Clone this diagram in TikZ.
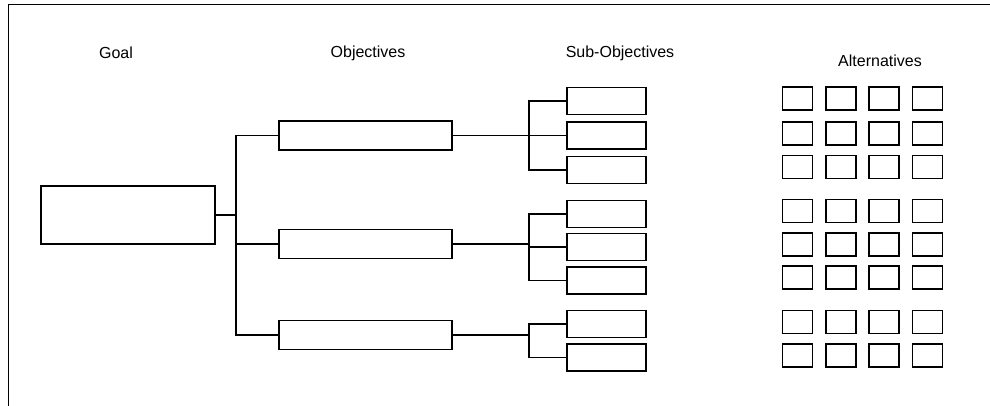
\documentclass[tikz,border=0pt]{standalone}
\usepackage{fontspec}
\setmainfont{Liberation Sans}
\begin{document}
\begin{tikzpicture}[x=1pt,y=-1pt,
  frameline/.style={line width=1pt},
  link/.style={line width=1.1pt},
  bx/.style={draw, line width=1.2pt, inner sep=0pt},
  goalbox/.style={bx, minimum width=174pt, minimum height=58pt},
  objbox/.style={bx, minimum width=173pt, minimum height=29pt},
  subbox/.style={bx, minimum width=79pt, minimum height=27pt},
  altbox/.style={bx, minimum width=30pt, minimum height=23pt},
  head/.style={font=\fontsize{16}{18}\selectfont, inner sep=0pt}]
\useasboundingbox (0,0) rectangle (990,406);

% outer frame (top and left edges)
\coordinate (tl) at (8,5);
\coordinate (tr) at (990,5);
\coordinate (bl) at (8,406);
\draw[frameline] (tr) -- (tl) -- (bl);

% column headings
\node[head] (hgoal) at (116,53) {Goal};
\node[head] (hobj) at (368,53) {Objectives};
\node[head] (hsub) at (620,53) {Sub-Objectives};
\node[head] (halt) at (880,61) {Alternatives};

% goal
\node[goalbox] (goal) at (128,215) {};

% objectives
\node[objbox] (o1) at (365.5,135.5) {};
\node[objbox] (o2) at (365.5,244) {};
\node[objbox] (o3) at (365.5,335) {};

% sub-objectives
\foreach \i/\y in {1/101,2/135.5,3/170,4/214,5/247,6/280.5,7/324,8/357.5}
  \node[subbox] (s\i) at (606.5,\y) {};

% alternatives grid
\foreach \r/\y in {1/98.5,2/133.5,3/167,4/211,5/244.5,6/277.5,7/322,8/355.5}
  \foreach \c/\x in {1/797.5,2/841,3/884,4/927.5}
    \node[altbox] (a\r\c) at (\x,\y) {};

% junctions
\coordinate (gj) at (236,215);
\coordinate (j1) at (529,135.5);
\coordinate (j2) at (529,244);
\coordinate (j3) at (529,335);

% goal to objectives
\draw[link] (goal.east) -- (gj);
\draw[link] (o1.west) -| (gj) |- (o3.west);
\draw[link] (gj) |- (o2.west);

% objectives to sub-objectives
\draw[link] (o1.east) -- (s2.west);
\draw[link] (s1.west) -| (j1) |- (s3.west);

\draw[link] (o2.east) -- (j2);
\draw[link] (s4.west) -| (j2) |- (s6.west);
\draw[link] (j2) |- (s5.west);

\draw[link] (o3.east) -- (j3);
\draw[link] (s7.west) -| (j3) |- (s8.west);
\end{tikzpicture}
\end{document}
